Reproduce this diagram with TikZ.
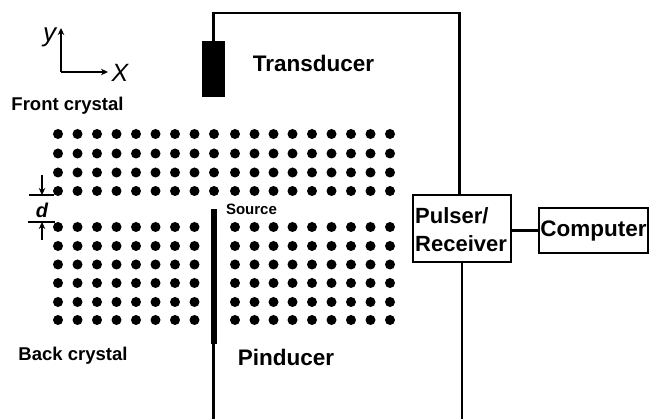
\documentclass[tikz,border=0pt]{standalone}
\usepackage{fontspec}
\setmainfont{Liberation Sans}
\usetikzlibrary{arrows.meta, positioning}

\begin{document}
\begin{tikzpicture}[
          x=1pt, y=-1pt,
          wire/.style={draw=black, line width=2.5pt},
          thin wire/.style={draw=black, line width=1.3pt},
          arr/.style={-{Stealth[length=7pt, width=6.5pt]}, black, line width=1.3pt},
          box/.style={draw=black, line width=1.6pt, fill=white, inner sep=0pt, font=\fontsize{22.5}{28}\selectfont\bfseries},
          probe/.style={fill=black, draw=none, inner sep=0pt},
          dot/.style={circle, fill=black, draw=none, inner sep=0pt, minimum size=10pt},
          label/.style={inner sep=0pt, font=\fontsize{18.5}{20}\selectfont\bfseries},
          biglabel/.style={inner sep=0pt, font=\fontsize{22.5}{25}\selectfont\bfseries}
        ]
        \useasboundingbox (0,0) rectangle (649,419);
        % probes
        \node[probe, minimum width=23pt, minimum height=56pt] (transducer) at (213.5,69) {};
        \node[probe, minimum width=6pt, minimum height=135pt] (pinducer) at (213.5,276.5) {};
        \coordinate (wiretop) at (459.5,13);
        \coordinate (pinend) at (213.5,419);
        \coordinate (pulserend) at (462,419);
        % instruments
        \node[box, minimum width=98pt, minimum height=67pt] (pulser) at (462,228.5) {};
        \node[box, minimum width=109pt, minimum height=45pt] (computer) at (593.5,230.5) {Computer};
        \node[inner sep=0pt, font=\fontsize{22}{28}\selectfont\bfseries, align=left, anchor=west] (pulsertext) at (415,230) {Pulser/\\Receiver};
        \draw[wire] (transducer.north) |- (wiretop) -- (wiretop |- pulser.north);
        \draw[wire] (pulser.south) -- (pulserend);
        \draw[wire] (pulser.east |- computer.west) -- (computer.west);
        \draw[line width=3pt] (pinducer.south) -- (pinend);
        % crystals
        \foreach \x [count=\i] in {58,77.5,97,116.5,136,155.5,175,194.5,214,235,254.5,273.5,292.5,312,331.5,351,370.5,390}
          \foreach \y [count=\j] in {134,153.5,172.5,191}
            \node[dot] (front-\i-\j) at (\x,\y) {};
        \foreach \x [count=\i] in {58,77.5,97,116.5,136,155.5,175,194.5,235,254.5,273.5,292.5,312,331.5,351,370.5,390}
          \foreach \y [count=\j] in {227,246,264.5,283,302,320}
            \node[dot] (back-\i-\j) at (\x,\y) {};
        % axes
        \coordinate (origin) at (61,72);
        \coordinate (ytip) at (61,28);
        \coordinate (xtip) at (108,72);
        \draw[arr] (origin) -- (ytip);
        \draw[arr] (origin) -- (xtip);
        \node[inner sep=0pt, font=\fontsize{26}{26}\selectfont\itshape] (ylabel) at (49.5,37.5) {y};
        \node[inner sep=0pt, font=\fontsize{25}{25}\selectfont\itshape] (xlabel) at (120,73) {X};
        % spacing marks
        \coordinate (upperleft) at (29,195);
        \coordinate (upperright) at (54,195);
        \coordinate (lowerleft) at (28,222);
        \coordinate (lowerright) at (55,222);
        \coordinate (uppertop) at (42,175);
        \coordinate (upperfoot) at (42,195);
        \coordinate (lowertop) at (42,240);
        \coordinate (lowerfoot) at (42,222);
        \draw[thin wire] (upperleft) -- (upperright);
        \draw[thin wire] (lowerleft) -- (lowerright);
        \draw[arr] (uppertop) -- (upperfoot);
        \draw[arr] (lowertop) -- (lowerfoot);
        \node[inner sep=0pt, font=\fontsize{20}{20}\selectfont\bfseries\itshape] (dlabel) at (42,210) {d};
        % texts
        \node[label] (front) at (67.5,106) {Front crystal};
        \node[label] (back) at (73,356) {Back crystal};
        \node[biglabel] (transducertext) at (313.5,63) {Transducer};
        \node[biglabel] (pinducertext) at (286,357) {Pinducer};
        \node[inner sep=0pt, font=\fontsize{15}{17}\selectfont\bfseries] (source) at (251.5,209) {Source};
      \end{tikzpicture}
\end{document}
